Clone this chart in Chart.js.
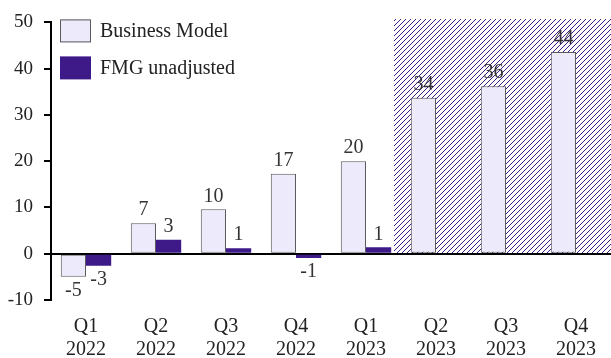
<!DOCTYPE html>
<html><head><meta charset="utf-8">
<script src="https://cdn.jsdelivr.net/npm/chart.js@4/dist/chart.umd.min.js"></script>
<style>html,body{margin:0;padding:0;background:#fff}#wrap{width:611px;height:358px}</style>
</head><body><div id="wrap"><canvas id="c" width="611" height="358"></canvas></div>
<script>
const quarters = ["Q1","Q2","Q3","Q4","Q1","Q2","Q3","Q4"];
const years = ["2022","2022","2022","2022","2023","2023","2023","2023"];
const businessModel = [-5.0, 6.6, 9.6, 17.3, 20.0, 33.7, 36.2, 43.6];
const fmgUnadjusted = [-2.6, 3.0, 1.2, -0.9, 1.4, null, null, null];
const yTicks = [-10, 0, 10, 20, 30, 40, 50];
const forecastStart = 4.4;   // category position where the shaded forecast box begins
const forecastTop = 50.8;

const SERIF = '"Liberation Serif", "Times New Roman", serif';
const BM_FILL = '#ECEAFB', BM_BORDER = '#5a5a5a', FMG_FILL = '#3D1A88';

function makePattern(ctx){
  const n = 5;
  const p = document.createElement('canvas');
  p.width = n; p.height = n;
  const g = p.getContext('2d');
  g.fillStyle = '#fff'; g.fillRect(0,0,n,n);
  g.fillStyle = FMG_FILL;
  for (let k = 0; k < n; k++) g.fillRect(n-1-k, k, 1, 1);
  return ctx.createPattern(p,'repeat');
}

const hatchPlugin = {
  id:'hatch',
  beforeDraw(chart){
    const {ctx, chartArea, scales:{x,y}} = chart;
    const x0 = Math.round(x.getPixelForValue(forecastStart));
    const x1 = chartArea.right;
    const y0 = Math.round(y.getPixelForValue(forecastTop));
    const y1 = y.getPixelForValue(0);
    ctx.save();
    ctx.fillStyle = makePattern(ctx);
    ctx.fillRect(x0, y0, x1-x0, y1-y0);
    ctx.restore();
  }
};

const labelPlugin = {
  id:'vals',
  afterDatasetsDraw(chart){
    const ctx = chart.ctx;
    ctx.save();
    ctx.font = '20px ' + SERIF;
    ctx.fillStyle = '#333';
    ctx.textAlign = 'center';
    chart.data.datasets.forEach((ds, di) => {
      const meta = chart.getDatasetMeta(di);
      meta.data.forEach((el, i) => {
        const v = ds.data[i];
        if (v === null || v === undefined) return;
        const t = String(Math.round(v));
        if (v >= 0) { ctx.textBaseline = 'bottom'; ctx.fillText(t, el.x, el.y - 3); }
        else { ctx.textBaseline = 'top'; ctx.fillText(t, el.x, el.y + 4); }
      });
    });
    ctx.restore();
  }
};

const legendPlugin = {
  id:'customLegend',
  afterDraw(chart){
    const ctx = chart.ctx, a = chart.chartArea;
    ctx.save();
    ctx.font = '20px ' + SERIF;
    ctx.textBaseline = 'middle';
    ctx.textAlign = 'left';
    chart.data.datasets.forEach((ds, i) => {
      const bx = a.left + 9, by = a.top - 3 + i*37;
      ctx.fillStyle = ds.backgroundColor;
      ctx.fillRect(bx, by, 31, 23);
      if (ds.borderWidth) {
        ctx.strokeStyle = ds.borderColor; ctx.lineWidth = 1;
        ctx.strokeRect(bx+0.5, by+0.5, 30, 22);
      }
      ctx.fillStyle = '#222';
      ctx.fillText(ds.label, bx + 40, by + 12);
    });
    ctx.restore();
  }
};

new Chart(document.getElementById('c'), {
  type:'bar',
  data:{
    labels: quarters.map((q,i)=>[q, years[i]]),
    datasets:[
      {label:'Business Model', data:businessModel, backgroundColor:BM_FILL, borderColor:BM_BORDER, borderWidth:1, borderSkipped:false},
      {label:'FMG unadjusted', data:fmgUnadjusted, backgroundColor:FMG_FILL, borderWidth:0}
    ]
  },
  options:{
    responsive:false, animation:false,
    layout:{padding:{top:10, right:0, left:0, bottom:0}},
    datasets:{bar:{categoryPercentage:0.72, barPercentage:1.0}},
    plugins:{legend:{display:false}, tooltip:{enabled:false}},
    scales:{
      x:{
        grid:{display:false},
        border:{display:false},
        ticks:{font:{family:SERIF, size:20, lineHeight:1.17}, color:'#222', maxRotation:0, padding:7},
        afterFit(s){ s.height = 58; }
      },
      y:{
        min:-10, max:50,
        afterBuildTicks(s){ s.ticks = yTicks.map(v=>({value:v})); },
        grid:{
          drawOnChartArea:true, drawTicks:true, tickLength:7,
          color:(c)=> (c.tick && c.tick.value===0) ? '#000' : 'rgba(0,0,0,0)',
          tickColor:'#000', lineWidth:2
        },
        border:{display:true, color:'#000', width:2},
        ticks:{font:{family:SERIF, size:19}, color:'#222', padding:11},
        afterFit(s){ s.width = 51; }
      }
    }
  },
  plugins:[hatchPlugin, labelPlugin, legendPlugin]
});
</script></body></html>
